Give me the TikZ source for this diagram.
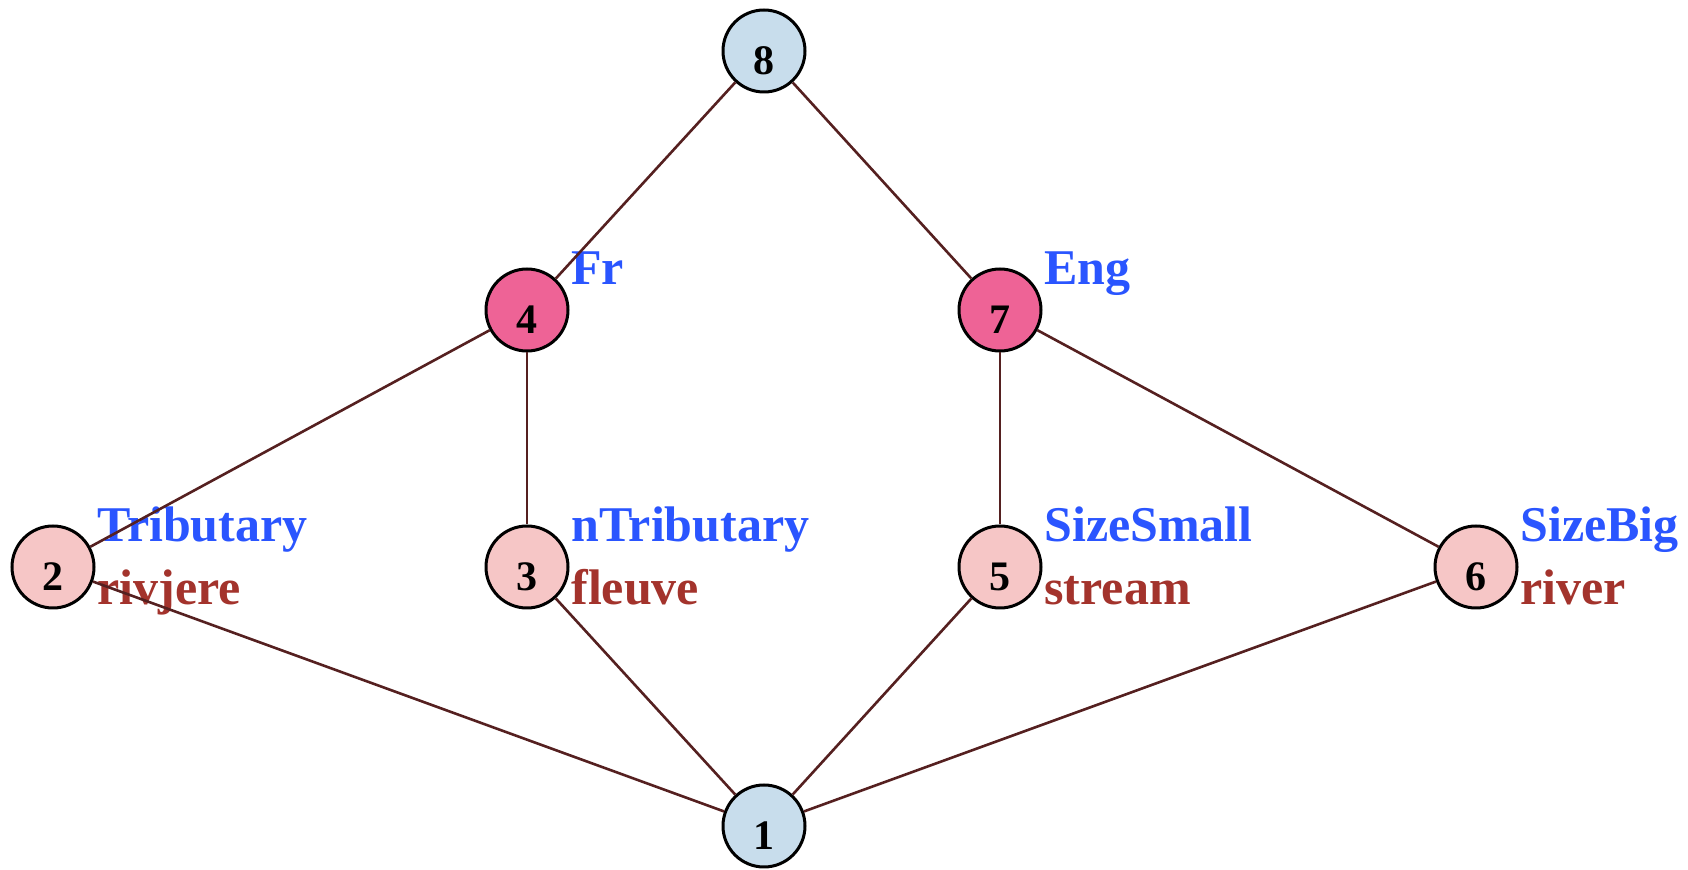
\documentclass[tikz,border=0pt]{standalone}
\usepackage{fontspec}
\setmainfont{Liberation Serif}
\usepackage{xcolor}

\definecolor{topblue}{HTML}{C8DDEC}
\definecolor{langpink}{HTML}{EE6396}
\definecolor{attrpink}{HTML}{F6C6C6}
\definecolor{edgebrown}{HTML}{552020}
\definecolor{intentblue}{HTML}{2A55FF}
\definecolor{extentred}{HTML}{A3332C}

\begin{document}
\begin{tikzpicture}[x=0.5pt,y=-0.5pt,
  concept/.style={circle,draw=black,line width=1.5pt,minimum size=41pt,inner sep=0pt,
    text height=24pt,text depth=0pt,font=\fontsize{21}{21}\selectfont\bfseries},
  intent/.style={anchor=base west,inner sep=0pt,text=intentblue,
    font=\fontsize{25}{25}\selectfont\bfseries},
  extent/.style={anchor=base west,inner sep=0pt,text=extentred,
    font=\fontsize{25}{25}\selectfont\bfseries},
  link/.style={draw=edgebrown,line width=1.3pt}]
\useasboundingbox (0,0) rectangle (1688,870);

% the lattice nodes
\foreach \n/\px/\py/\crlr in {8/764/51/topblue,4/527/310/langpink,7/1000/310/langpink,
    2/53/567/attrpink,3/527/567/attrpink,5/1000/567/attrpink,6/1476/567/attrpink,
    1/764/826/topblue}
  {\node [concept,fill=\crlr] (n\n) at (\px,\py) {\n};}

% blue intents above, red extents below
\foreach \n/\txt in {4/Fr,7/Eng,2/Tributary,3/nTributary,5/SizeSmall,6/SizeBig}
  {\node [intent] (i\n) at ([shift={(22pt,12.5pt)}]n\n.center) {\txt};}
\foreach \n/\txt in {2/rivjere,3/fleuve,5/stream,6/river}
  {\node [extent] (e\n) at ([shift={(22pt,-19pt)}]n\n.center) {\txt};}

\foreach \a/\b in {8/4,8/7,4/2,4/3,7/5,7/6,2/1,3/1,5/1,6/1}
  {\draw [link] (n\a) -- (n\b);}
\end{tikzpicture}
\end{document}
